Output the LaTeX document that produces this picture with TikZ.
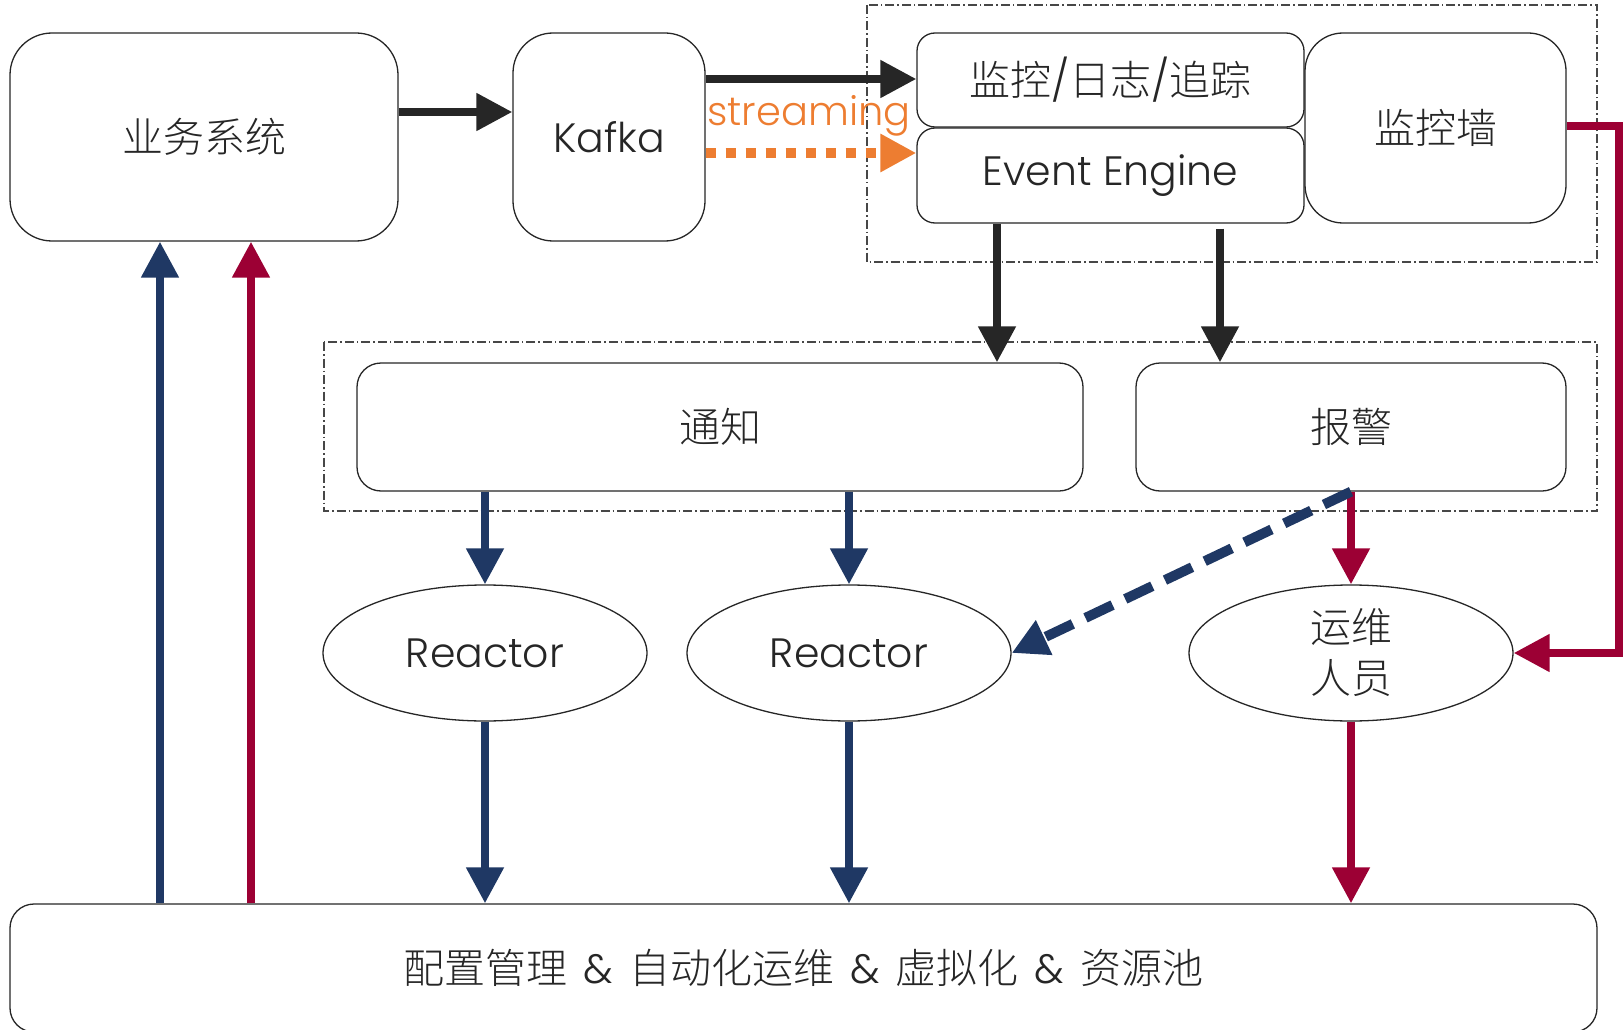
\documentclass[tikz,border=0pt]{standalone}
\usepackage{fontspec}
\setmainfont{Poppins Light}
\newfontfamily\cjk{Noto Sans CJK SC Light}
\usetikzlibrary{arrows.meta,calc,shapes.geometric}

\definecolor{ink}{HTML}{262626}
\definecolor{navy}{HTML}{1F3864}
\definecolor{wine}{HTML}{9C0034}
\definecolor{amber}{HTML}{ED7D31}

\newcommand{\amp}{\hspace{16pt}\&\hspace{16pt}}

\tikzset{
  box/.style={draw=ink, line width=1.3pt, fill=white, inner sep=0pt,
    align=center, text=ink, font=\fontsize{41}{51}\selectfont},
  oval/.style={box, ellipse, minimum width=324pt, minimum height=136pt},
  frame/.style={draw=ink!85, line width=1.2pt,
    dash pattern=on 9pt off 3pt on 1.5pt off 3pt},
  conn/.style={line width=8pt, -{Triangle[length=36pt,width=36pt]}},
  blackflow/.style={conn, draw=ink},
  navyflow/.style={conn, draw=navy},
  wineflow/.style={conn, draw=wine},
  streamflow/.style={line width=10pt, draw=amber,
    dash pattern=on 10pt off 10pt, -{Triangle[length=36pt,width=36pt]}},
  escalate/.style={line width=10pt, draw=navy,
    dash pattern=on 30pt off 14pt, -{Triangle[length=36pt,width=36pt]}},
}

\begin{document}
\begin{tikzpicture}[x=1pt,y=-1pt]
\useasboundingbox (0,0) rectangle (1623,1030);

% grouping frames
\draw[frame] (867,5) rectangle (1597,262);
\draw[frame] (324,342) rectangle (1597,511);

% boxes
\node[box, rounded corners=42pt, minimum width=388pt, minimum height=208pt]
  (biz) at (204,137) {{\cjk 业务系统}};
\node[box, rounded corners=40pt, minimum width=192pt, minimum height=208pt]
  (kafka) at (609,137) {Kafka};
\node[box, rounded corners=18pt, minimum width=387pt, minimum height=94pt]
  (mon) at (1110.5,80) {{\cjk 监控}/{\cjk 日志}/{\cjk 追踪}};
\node[box, rounded corners=18pt, minimum width=387pt, minimum height=95pt]
  (ee) at (1110.5,175.5) {Event Engine};
\node[box, rounded corners=38pt, minimum width=261pt, minimum height=190pt]
  (wall) at (1435.5,128) {{\cjk 监控墙}};
\node[box, rounded corners=24pt, minimum width=726pt, minimum height=128pt]
  (notify) at (720,427) {{\cjk 通知}};
\node[box, rounded corners=24pt, minimum width=430pt, minimum height=128pt]
  (alarm) at (1351,427) {{\cjk 报警}};
\node[oval] (r1) at (485,653) {Reactor};
\node[oval] (r2) at (849,653) {Reactor};
\node[oval] (ops) at (1351,653) {{\cjk 运维}\\{\cjk 人员}};
\node[box, rounded corners=24pt, minimum width=1587pt, minimum height=128pt]
  (base) at (803.5,968)
  {{\cjk 配置管理}\amp{\cjk 自动化运维}\amp{\cjk 虚拟化}\amp{\cjk 资源池}};

% column positions for vertical connectors
\coordinate (xa) at (997,0);
\coordinate (xb) at (1220,0);
\coordinate (xn) at (160,0);
\coordinate (xw) at (251,0);

% data path
\draw[blackflow] ([yshift=25pt]biz.east) -- ([yshift=25pt]biz.east -| kafka.west);
\draw[blackflow] ([yshift=58pt]kafka.east) -- ([yshift=58pt]kafka.east -| mon.west);
\draw[streamflow] ([yshift=-16pt]kafka.east) -- ([yshift=-16pt]kafka.east -| ee.west);
\node[text=amber, font=\fontsize{40}{48}\selectfont, anchor=base, inner sep=0pt]
  (streamlbl) at (809,126) {streaming};

\draw[blackflow] (ee.south -| xa) -- (notify.north -| xa);
\draw[blackflow] ([yshift=-5pt]ee.south -| xb) -- (alarm.north -| xb);

% notification and alarm fan-out
\draw[navyflow] (notify.south -| r1.north) -- (r1.north);
\draw[navyflow] (notify.south -| r2.north) -- (r2.north);
\draw[wineflow] (alarm.south) -- (ops.north);
\draw[escalate] (alarm.south) -- (r2.east);
\draw[wineflow] ([yshift=2pt]wall.east) -- ++(52,0) |- (ops.east);

% down to the platform layer
\draw[navyflow] (r1.south) -- (r1.south |- base.north);
\draw[navyflow] (r2.south) -- (r2.south |- base.north);
\draw[wineflow] (ops.south) -- (ops.south |- base.north);

% back up to the business system
\draw[navyflow] (base.north -| xn) -- (biz.south -| xn);
\draw[wineflow] (base.north -| xw) -- (biz.south -| xw);
\end{tikzpicture}
\end{document}
